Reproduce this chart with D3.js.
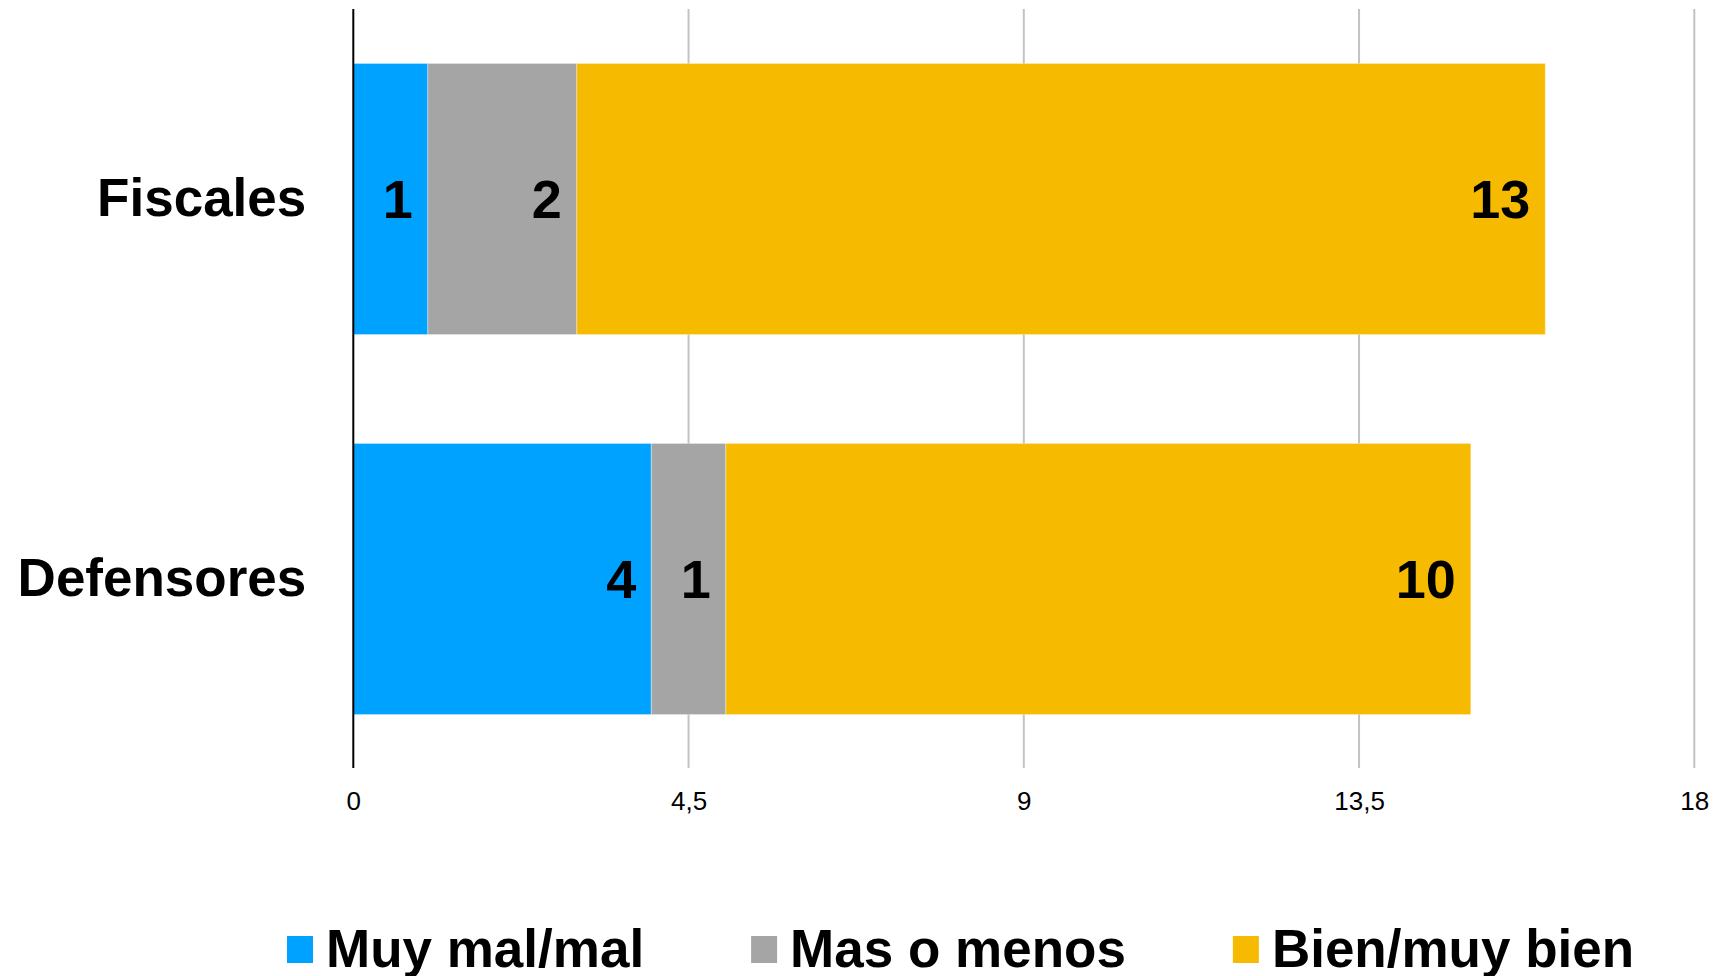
<!DOCTYPE html>
<html>
<head>
<meta charset="utf-8">
<script src="https://cdn.jsdelivr.net/npm/d3@7"></script>
<style>
  html, body { margin: 0; padding: 0; background: #fff; }
  svg { display: block; font-family: "Liberation Sans", Arial, sans-serif; }
</style>
</head>
<body>
<svg id="chart" width="1716" height="976"></svg>
<script>
const categories = ["Fiscales", "Defensores"];
const seriesNames = ["Muy mal/mal", "Mas o menos", "Bien/muy bien"];
const muyMal = [1, 4];
const masOMenos = [2, 1];
const bien = [13, 10];
const tickValues = [0, 4.5, 9, 13.5, 18];
const tickLabels = ["0", "4,5", "9", "13,5", "18"];
const colors = ["#00A2FF", "#A5A5A5", "#F6BB00"];

(function () {
const rows = categories.map((c, i) => ({ cat: c, "Muy mal/mal": muyMal[i], "Mas o menos": masOMenos[i], "Bien/muy bien": bien[i] }));

const svg = d3.select("#chart");
const pLeft = 353.3, pRight = 1694.3, pTop = 9, pBottom = 769;

const x = d3.scaleLinear().domain([0, 18]).range([pLeft, pRight]);
const y = d3.scaleBand().domain(categories).range([pTop, pBottom]).paddingInner(0.2866).paddingOuter(0.1433);
const color = d3.scaleOrdinal().domain(seriesNames).range(colors);

// gridlines
svg.append("g").selectAll("line")
  .data(tickValues.filter(v => v !== 0))
  .join("line")
  .attr("x1", d => x(d)).attr("x2", d => x(d))
  .attr("y1", pTop).attr("y2", pBottom - 1)
  .attr("stroke", "#c3c3c3").attr("stroke-width", 2);

// bars
const stacked = d3.stack().keys(seriesNames)(rows);
const layers = svg.append("g").selectAll("g").data(stacked).join("g")
  .attr("fill", d => color(d.key));
layers.selectAll("rect").data(d => d).join("rect")
  .attr("x", d => x(d[0]))
  .attr("width", d => x(d[1]) - x(d[0]))
  .attr("y", d => y(d.data.cat))
  .attr("height", y.bandwidth())
  .attr("stroke", "#ffffff").attr("stroke-opacity", 0.35).attr("stroke-width", 1);

// value labels
layers.selectAll("text").data(d => d.map(v => ({ key: d.key, v0: v[0], v1: v[1], cat: v.data.cat })))
  .join("text")
  .attr("x", d => x(d.v1) - 15)
  .attr("y", d => y(d.cat) + y.bandwidth() / 2 + 19)
  .attr("text-anchor", "end")
  .attr("font-size", 54).attr("font-weight", "bold").attr("fill", "#000")
  .text(d => d.v1 - d.v0);

// x axis (tick labels only)
const xAxis = d3.axisBottom(x).tickValues(tickValues).tickFormat((d, i) => tickLabels[i]).tickSize(0).tickPadding(0);
const gx = svg.append("g").attr("transform", `translate(0,${pBottom})`).call(xAxis);
gx.select(".domain").remove();
gx.selectAll("text").attr("font-size", 26).attr("font-family", "Liberation Sans, Arial, sans-serif")
  .attr("fill", "#000").attr("dy", null).attr("y", 40.5);

// y axis line at 0
svg.append("line").attr("x1", x(0)).attr("x2", x(0)).attr("y1", pTop).attr("y2", pBottom - 1)
  .attr("stroke", "#000").attr("stroke-width", 2);

// category labels
const yAxis = d3.axisLeft(y).tickSize(0).tickPadding(0);
const gy = svg.append("g").attr("transform", `translate(${x(0) - 47},0)`).call(yAxis);
gy.select(".domain").remove();
gy.selectAll("text").attr("font-size", 53).attr("font-weight", "bold")
  .attr("font-family", "Liberation Sans, Arial, sans-serif").attr("fill", "#000")
  .attr("dy", null).attr("y", 17);

// legend
const legend = svg.append("g");
let lx = 287;
seriesNames.forEach((name, i) => {
  const g = legend.append("g");
  g.append("rect").attr("x", lx).attr("y", 936).attr("width", 26).attr("height", 27).attr("fill", colors[i]);
  const t = g.append("text").attr("x", lx + 39).attr("y", 966.5)
    .attr("font-size", 53).attr("font-weight", "bold").attr("fill", "#000").text(name);
  lx += 39 + t.node().getComputedTextLength() + 107;
});
})();
</script>
</body>
</html>
